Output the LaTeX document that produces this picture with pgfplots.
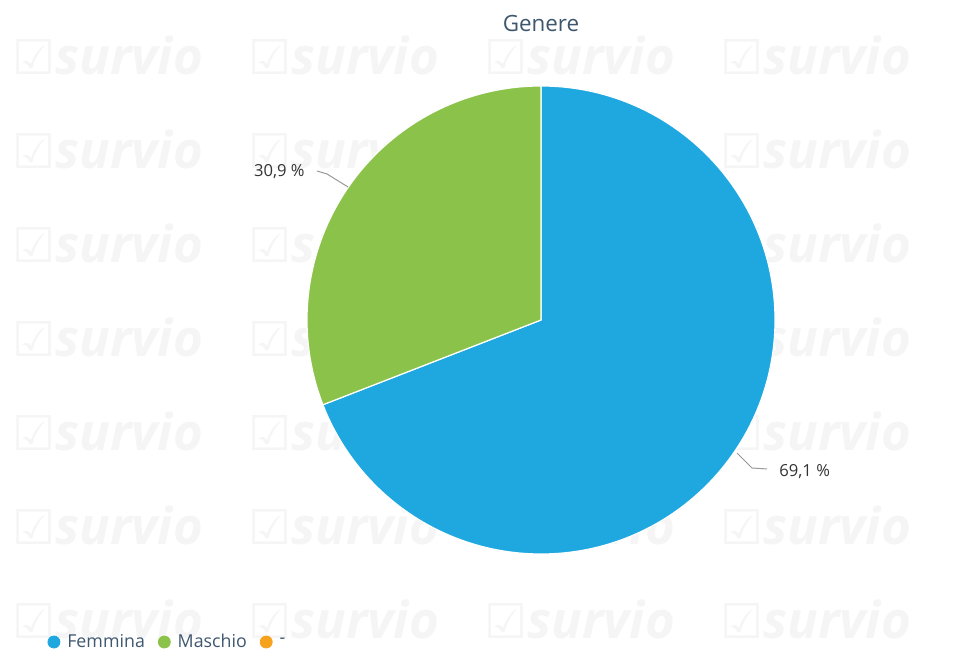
\documentclass[border=0pt]{standalone}
\usepackage{fontspec}
\setmainfont{Open Sans}
\newfontfamily\symfont{DejaVu Sans}
\usepackage{pgfplots}
\pgfplotsset{compat=1.18}
\definecolor{pieblue}{HTML}{1FA8E0}
\definecolor{piegreen}{HTML}{8BC34A}
\definecolor{pieorange}{HTML}{F7A21C}
\definecolor{titlecol}{HTML}{3E576F}
\definecolor{labcol}{HTML}{333333}
\definecolor{wmark}{HTML}{F5F5F5}
\definecolor{leader}{HTML}{999999}

% shares in percent
\def\vF{69.1}
\def\vM{30.9}
\def\cx{541}
\def\cy{332}
\def\R{234}
\pgfmathsetmacro\aEnd{90-3.6*\vF}

\begin{document}
\begin{tikzpicture}[x=0.5pt,y=0.5pt]
\useasboundingbox (0,0) rectangle (956,652);
% faint watermark tiles
\foreach \c in {0,...,3}{
  \foreach \r in {0,...,6}{
    \node[anchor=west, text=wmark, inner sep=0pt,
          font=\fontsize{25.5}{25.5}\selectfont\bfseries\itshape]
      at ({12+236*\c},{597-94.1*\r}) {{\symfont\fontsize{24}{24}\selectfont ☑}survio};
  }
}
\begin{axis}[
  at={(0,0)}, anchor=south west,
  x=0.5pt, y=0.5pt,
  xmin=0, xmax=956, ymin=0, ymax=652,
  hide axis, enlargelimits=false, clip=false,
  legend columns=3,
  legend style={at={(0.043,0.0153)}, anchor=west, draw=none, fill=none,
    font=\fontsize{8.9}{10}\selectfont, text=titlecol,
    /tikz/every odd column/.append style={column sep=1.5pt},
    /tikz/every even column/.append style={column sep=4.5pt}},
  legend image code/.code={\fill[#1] (0pt,0pt) circle (3pt);},
]
\addlegendimage{pieblue}
\addlegendentry{Femmina}
\addlegendimage{piegreen}
\addlegendentry{Maschio}
\addlegendimage{pieorange}
\addlegendentry{-}

\fill[pieblue, draw=white, line width=0.6pt]
  (axis cs:\cx,\cy) -- (axis cs:\cx,{\cy+\R})
  arc[start angle=90, end angle=\aEnd, radius=\R*0.5pt] -- cycle;
\fill[piegreen, draw=white, line width=0.6pt]
  (axis cs:\cx,\cy) -- (axis cs:\cx,{\cy+\R})
  arc[start angle=90, end angle={\aEnd+360}, radius=\R*0.5pt] -- cycle;

\draw[leader, line width=0.5pt] (axis cs:317,481) -- (axis cs:327,478) -- (axis cs:348,465);
\node[anchor=east, text=labcol, font=\fontsize{8.3}{9}\selectfont, inner sep=0pt]
  at (axis cs:305,480) {30,9 \%};
\draw[leader, line width=0.5pt] (axis cs:737,199) -- (axis cs:752,184) -- (axis cs:767,183);
\node[anchor=west, text=labcol, font=\fontsize{8.3}{9}\selectfont, inner sep=0pt]
  at (axis cs:779,180) {69,1 \%};

\node[text=titlecol, font=\fontsize{11.2}{12}\selectfont] at (axis cs:541,628) {Genere};
\end{axis}
\end{tikzpicture}
\end{document}
